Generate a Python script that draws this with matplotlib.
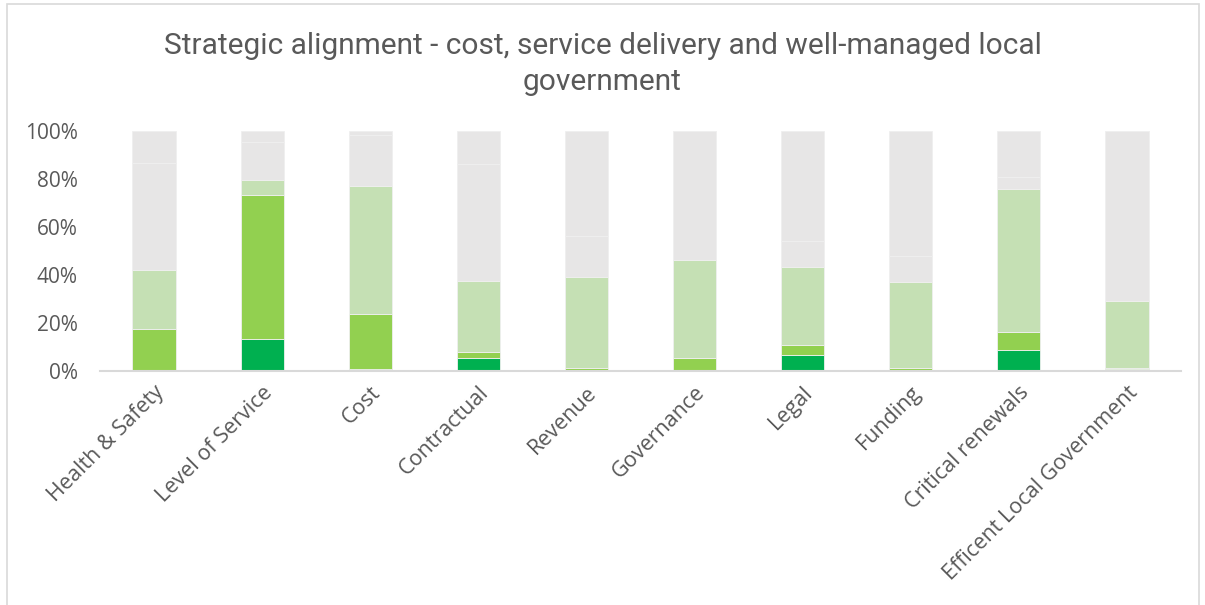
import matplotlib
matplotlib.use('agg')
import matplotlib.pyplot as plt
import numpy as np
from matplotlib.patches import Rectangle
from matplotlib.ticker import PercentFormatter

plt.rcParams['font.family'] = ['Open Sans', 'DejaVu Sans']

categories = ["Health & Safety", "Level of Service", "Cost", "Contractual", "Revenue",
              "Governance", "Legal", "Funding", "Critical renewals", "Efficent Local Government"]

# share of each category (percent), bottom to top
dark_green = [0.0, 13.3, 1.0, 5.5, 0.0, 0.0, 6.7, 0.0, 8.6, 0.8]
mid_green = [17.5, 60.2, 22.8, 2.4, 1.2, 5.5, 4.1, 1.2, 7.6, 0.4]
light_green = [24.6, 6.1, 53.3, 29.6, 38.0, 40.75, 32.5, 35.9, 59.5, 28.0]
grey_low = [44.4, 15.9, 21.2, 48.75, 16.9, 53.75, 10.7, 10.7, 5.0, 70.8]
grey_high = [13.5, 4.5, 1.7, 13.75, 43.9, 0.0, 46.0, 52.2, 19.3, 0.0]

series = [dark_green, mid_green, light_green, grey_low, grey_high]
colors = ["#00b050", "#92d050", "#c5e0b4", "#e7e6e6", "#e7e6e6"]

text_col = "#595959"

fig = plt.figure(figsize=(12.05, 6.05), dpi=100)
ax = fig.add_axes([100 / 1205, 1 - 371 / 605, 1081 / 1205, 240 / 605])

x = np.arange(len(categories))
bottom = np.zeros(len(categories))
for vals, c in zip(series, colors):
    v = np.array(vals) / 100.0
    ax.bar(x, v, width=0.4, bottom=bottom, color=c, edgecolor="#efefef", linewidth=0.6)
    bottom += v

ax.set_xlim(-0.5, len(categories) - 0.5)
ax.set_ylim(0, 1)
ax.set_yticks(np.linspace(0, 1, 6))
ax.yaxis.set_major_formatter(PercentFormatter(1.0, decimals=0))

for s in ["top", "right", "left"]:
    ax.spines[s].set_visible(False)
ax.spines["bottom"].set_color("#d9d9d9")
ax.spines["bottom"].set_linewidth(1.5)

ax.tick_params(axis="y", length=0, pad=16, labelsize=15, labelcolor=text_col)
ax.tick_params(axis="x", length=0, pad=8, labelsize=15.5, labelcolor=text_col)
ax.set_xticks(x)
ax.set_xticklabels(categories, rotation=45, ha="right", rotation_mode="anchor")

fig.text(0.5, 1 - 64 / 605, "Strategic alignment - cost, service delivery and well-managed local\ngovernment",
         ha="center", va="center", fontsize=21.5, color=text_col, family="Roboto", linespacing=1.32)

# chart area border
fig.patches.append(Rectangle((7 / 1205, -0.01), 1192 / 1205, 1 - 4 / 605 + 0.01,
                             transform=fig.transFigure, fill=False, edgecolor="#d9d9d9", linewidth=1.2))

fig.savefig("out.png", dpi=100)
